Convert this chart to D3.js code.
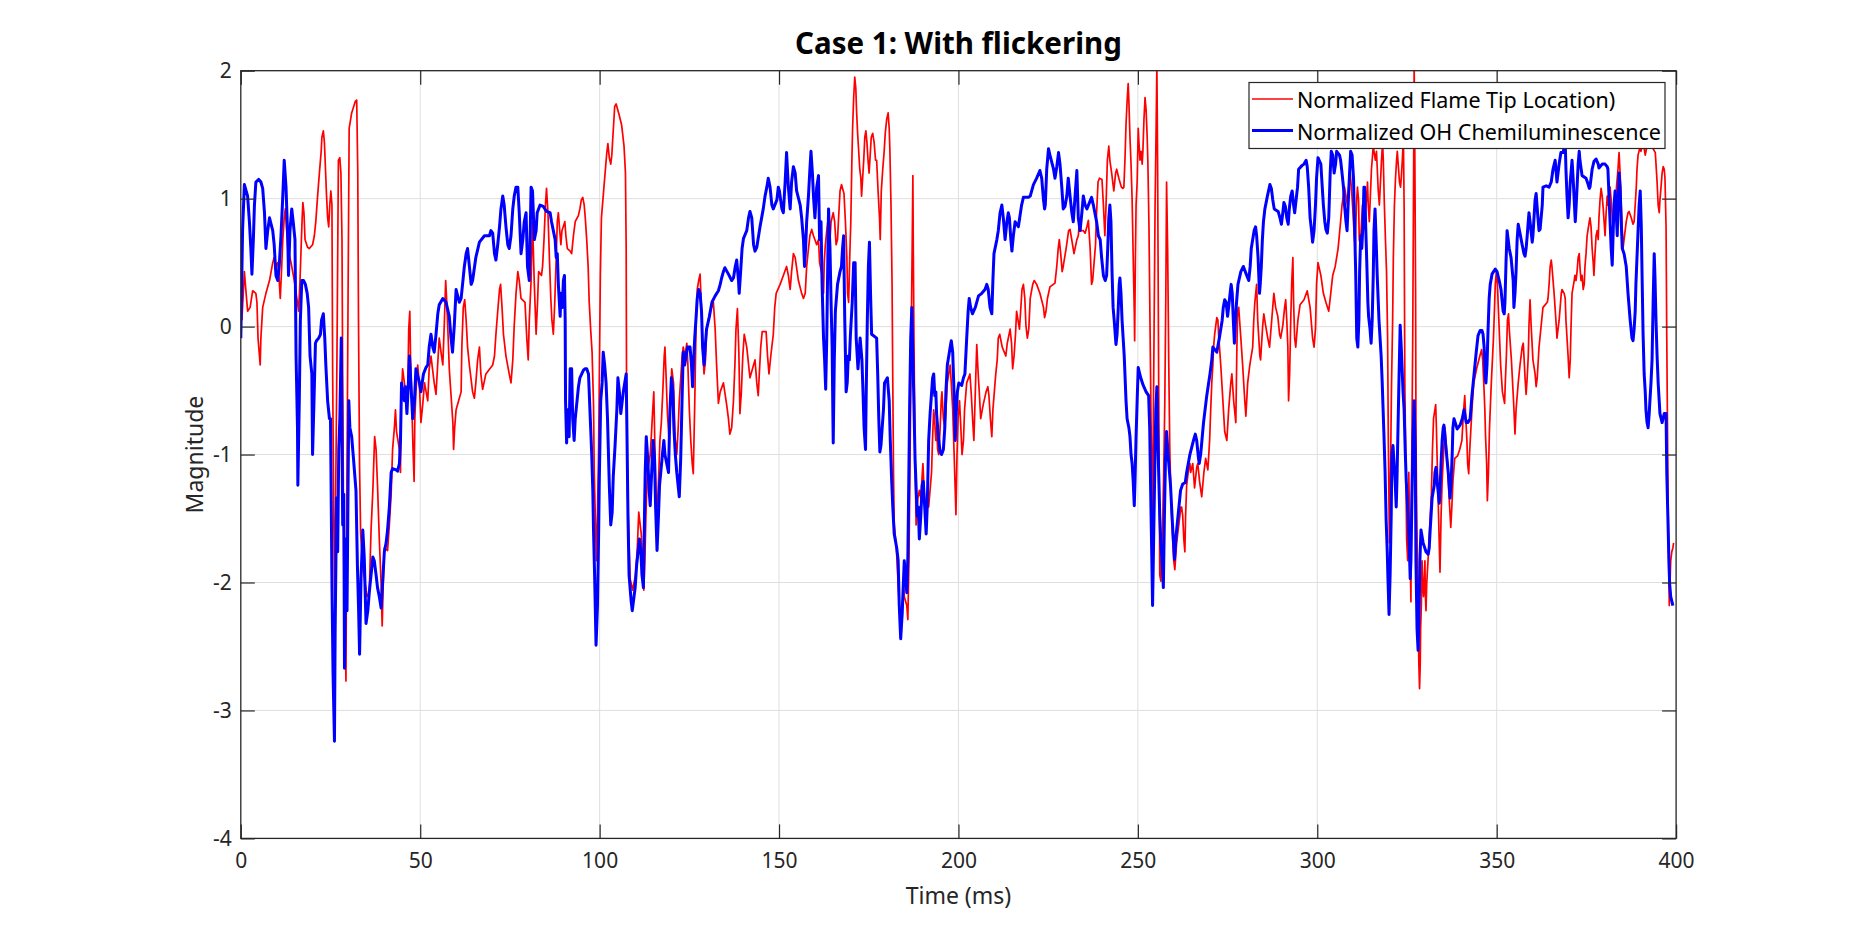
<!DOCTYPE html>
<html>
<head>
<meta charset="utf-8">
<script src="https://cdn.jsdelivr.net/npm/d3@7"></script>
<style>
  body { margin: 0; background: #fff; }
  svg text { font-family: "Noto Sans", "Open Sans", sans-serif; }
</style>
</head>
<body>
<main></main>
<script>
// Case 1 flame tip vs OH signal

// Ticks
const xTicks = [0, 50, 100, 150, 200, 250, 300, 350, 400];
const yTicks = [-4, -3, -2, -1, 0, 1, 2];

// Series names
const seriesNames = ["Normalized Flame Tip Location)", "Normalized OH Chemiluminescence"];

// Normalized flame tip location, [time (ms), value]
const flameTip = [
  [0.3,0.05],[1.0,0.43],[1.4,0.29],[1.9,0.12],[2.6,0.15],[3.3,0.28],[4.2,0.26],[4.5,0.19],[4.8,-0.09],[5.2,-0.23],
  [5.4,-0.30],[5.6,-0.09],[6.1,0.15],[7.0,0.26],[8.0,0.36],[8.9,0.50],[9.3,0.54],[9.8,0.47],[10.3,0.50],[10.7,0.36],
  [11.0,0.22],[11.4,0.47],[11.7,0.68],[12.1,0.85],[12.4,0.92],[13.1,0.61],[14.0,0.50],[14.9,0.36],[15.8,0.19],[16.1,0.12],
  [16.5,0.36],[16.8,0.61],[17.1,0.85],[17.3,0.97],[17.6,0.89],[17.9,0.68],[18.6,0.62],[19.1,0.61],[20.0,0.64],[20.5,0.71],
  [20.9,0.82],[21.4,1.02],[21.9,1.20],[22.4,1.37],[22.6,1.48],[23.0,1.53],[23.3,1.44],[23.6,1.23],[23.9,1.02],[24.2,0.85],
  [24.5,0.78],[24.8,0.95],[25.1,1.06],[25.4,0.95],[25.6,-0.37],[25.9,-1.48],[26.2,-2.22],[26.5,-1.14],[26.8,-0.23],[27.2,1.30],
  [27.6,1.32],[27.9,1.20],[28.2,0.68],[28.4,-0.44],[28.7,-1.83],[29.0,-2.18],[29.3,-2.77],[29.6,-1.14],[29.9,0.26],[30.2,1.55],
  [30.9,1.67],[31.9,1.76],[32.3,1.77],[32.6,1.20],[32.8,0.05],[33.1,-1.10],[33.4,-1.62],[34.1,-1.90],[35.2,-2.11],[35.8,-2.08],
  [36.3,-1.59],[36.8,-1.28],[37.3,-0.86],[37.7,-0.96],[38.1,-1.24],[38.6,-1.66],[39.1,-2.01],[39.4,-2.34],[39.7,-2.01],[40.0,-1.73],
  [40.9,-1.75],[41.4,-1.55],[41.9,-1.31],[42.3,-0.96],[42.8,-0.79],[43.1,-0.65],[43.4,-0.82],[44.2,-0.96],[44.5,-1.14],[44.7,-0.58],
  [45.1,-0.33],[45.9,-0.51],[46.2,-0.65],[46.5,-0.54],[46.8,-0.02],[47.1,0.12],[47.3,-0.23],[47.7,-0.65],[48.0,-0.96],[48.3,-1.21],
  [48.5,-0.72],[48.8,-0.51],[49.3,-0.30],[49.8,-0.47],[50.2,-0.75],[50.7,-0.61],[51.2,-0.44],[52.1,-0.58],[52.5,-0.33],[53.0,-0.23],
  [53.9,-0.44],[54.4,-0.53],[55.0,-0.23],[55.3,-0.09],[55.8,-0.20],[56.3,-0.30],[56.7,0.01],[57.1,0.36],[57.4,0.19],[57.8,-0.09],
  [58.1,-0.33],[58.6,-0.54],[59.1,-0.75],[59.3,-0.96],[59.6,-0.79],[60.0,-0.65],[60.9,-0.56],[61.4,-0.51],[61.6,-0.16],[62.0,0.15],
  [62.4,0.21],[62.8,0.05],[63.2,-0.16],[63.7,-0.30],[64.6,-0.51],[65.1,-0.56],[65.5,-0.44],[66.0,-0.26],[66.5,-0.16],[66.9,-0.37],
  [67.4,-0.49],[68.3,-0.37],[70.2,-0.30],[70.7,-0.23],[71.1,-0.06],[71.6,0.12],[72.1,0.29],[72.4,0.33],[72.8,0.15],[73.2,-0.06],
  [73.9,-0.23],[74.8,-0.37],[75.3,-0.44],[75.8,-0.26],[76.2,0.01],[76.7,0.26],[77.2,0.43],[77.6,0.36],[78.1,0.22],[79.2,0.19],
  [79.7,-0.09],[80.1,-0.26],[80.4,0.05],[80.9,0.36],[81.3,0.82],[81.8,0.33],
  [82.3,-0.06],[82.7,0.19],[83.0,0.43],[83.8,0.40],[84.1,0.47],[84.5,0.68],[84.9,0.95],[85.2,1.08],[85.6,0.89],[86.0,0.54],
  [86.4,0.22],[86.7,0.05],[87.1,-0.06],[87.5,0.19],[87.9,0.54],[88.2,0.82],[88.5,0.89],[88.8,0.78],[89.2,0.64],[89.5,0.75],
  [90.3,0.82],[90.6,0.71],[91.0,0.61],[91.8,0.59],[92.2,0.57],[92.7,0.71],[93.2,0.82],[94.1,0.87],[94.5,0.92],[94.9,0.99],
  [95.3,1.01],[95.7,0.95],[96.0,0.85],[96.4,0.68],[96.8,0.47],[97.1,0.19],[97.5,-0.02],[97.9,-0.20],[98.3,-0.61],[98.5,-1.14],
  [98.8,-1.48],[99.1,-1.83],[99.4,-1.48],[99.7,-1.00],[99.9,-0.44],[100.2,0.40],[100.5,0.85],[101.2,1.09],[102.0,1.36],[102.3,1.43],
  [102.7,1.32],[103.1,1.27],[103.4,1.34],[103.6,1.44],[103.9,1.58],[104.2,1.72],[104.6,1.74],[105.3,1.67],[106.1,1.58],[106.4,1.51],
  [106.8,1.41],[107.2,1.20],[107.4,0.61],[107.5,-0.44],[107.8,-1.31],[108.2,-1.69],[108.5,-1.97],[109.2,-2.06],[110.0,-1.94],[110.5,-1.73],
  [110.9,-1.45],[111.6,-1.62],[112.0,-1.80],[112.3,-2.06],[112.6,-1.83],[112.9,-1.48],[113.3,-1.14],[114.1,-1.00],[114.4,-0.86],[114.8,-0.65],
  [115.1,-0.51],[115.4,-0.93],[115.7,-1.34],[116.1,-1.41],[116.5,-1.14],[116.8,-0.89],[117.2,-0.75],[117.6,-0.51],[118.0,-0.23],[118.2,-0.16],
  [118.5,-0.37],[118.9,-0.68],[119.3,-0.86],[119.6,-0.65],[120.1,-0.33],[120.6,-0.44],[121.0,-0.86],[121.5,-1.00],[121.9,-0.79],[122.2,-0.58],
  [123.0,-0.23],[123.3,-0.16],[123.8,-0.23],[124.3,-0.13],[124.6,-0.30],[125.0,-0.65],[125.4,-0.89],[125.8,-1.07],[126.1,-1.15],[126.5,-0.61],
  [126.9,0.05],[127.2,0.29],[127.6,0.36],[128.0,0.41],[128.4,0.12],[128.7,-0.16],[129.1,-0.37],[129.5,-0.26],[129.8,-0.02],[130.8,0.12],
  [131.7,0.19],[132.2,-0.02],[132.6,-0.30],[133.1,-0.60],[133.6,-0.51],[134.5,-0.44],[135.4,-0.61],[135.9,-0.72],[136.3,-0.84],[136.8,-0.79],
  [137.3,-0.58],[137.7,-0.30],[138.0,-0.02],[138.4,0.14],[138.8,-0.20],[139.1,-0.68],[139.5,-0.51],[139.9,-0.23],[140.3,-0.06],[141.0,-0.16],
  [141.9,-0.40],[142.9,-0.30],[143.3,-0.26],[143.8,-0.44],[144.2,-0.54],[144.5,-0.37],[144.9,-0.16],[145.3,-0.04],[146.4,-0.04],[146.8,-0.23],
  [147.2,-0.37],[147.7,-0.23],[148.4,-0.06],[148.8,0.15],[149.2,0.26],[150.3,0.33],[151.2,0.40],[152.1,0.47],[152.6,0.40],[153.1,0.29],
  [153.5,0.43],[154.0,0.57],[154.5,0.54],[155.4,0.36],[156.3,0.26],[156.8,0.22],[157.3,0.26],[157.7,0.47],[158.2,0.61],[158.6,0.71],
  [159.1,0.76],[159.6,0.71],[160.5,0.64],[161.0,0.68],[161.3,0.50],
  [162.0,0.40],[162.4,0.26],[162.6,0.50],[162.9,0.64],[163.3,0.75],[163.6,0.82],[163.8,0.71],[164.2,0.68],[164.5,0.82],[165.1,0.89],
  [165.5,0.82],[165.9,0.64],[166.3,0.68],[166.6,0.85],[167.0,1.06],[167.4,1.11],[168.1,1.04],[168.5,0.82],[168.9,0.54],[169.1,0.26],
  [169.4,0.19],[169.7,0.54],[170.0,0.82],[170.3,1.30],[170.5,1.55],[170.8,1.79],[171.1,1.95],[171.4,1.86],[171.6,1.69],[171.9,1.51],
  [172.2,1.37],[172.5,1.23],[172.8,1.16],[173.0,1.02],[173.3,1.16],[173.6,1.30],[173.9,1.48],[174.2,1.53],[174.5,1.44],[174.8,1.30],
  [175.1,1.20],[175.4,1.34],[175.7,1.48],[176.1,1.51],[176.5,1.44],[176.9,1.30],[177.2,1.30],[177.6,1.06],[178.0,0.85],[178.2,0.68],
  [178.5,1.06],[178.9,1.23],[179.3,1.37],[179.6,1.51],[180.0,1.62],[180.4,1.67],[180.7,1.55],[180.9,1.37],[181.2,0.95],[181.5,0.33],
  [181.7,-0.44],[181.9,-1.14],[182.1,-1.55],[182.7,-1.73],[183.0,-1.90],[183.5,-2.18],[183.9,-2.36],[184.3,-2.29],[184.7,-1.97],[184.9,-2.11],
  [185.6,-2.18],[185.9,-2.29],[186.2,-1.83],[186.5,-1.07],[186.8,-0.16],[187.1,0.61],[187.3,1.18],[187.4,0.68],[187.6,-0.09],[187.9,-1.00],
  [188.2,-1.55],[188.7,-1.34],[189.1,-1.28],[189.5,-1.34],[190.1,-1.07],[190.7,-1.45],[191.3,-1.31],[191.7,-1.41],[192.5,-1.14],[192.8,-0.86],
  [193.1,-0.65],[193.4,-0.75],[193.7,-0.89],[193.9,-0.79],[194.2,-0.96],[194.5,-1.00],[194.9,-0.79],[195.2,-0.58],[195.4,-0.51],[195.8,-0.72],
  [196.2,-0.79],[196.5,-0.65],[196.9,-0.44],[197.7,-0.30],[198.0,-0.44],[198.4,-0.65],[198.8,-1.00],[199.1,-1.28],[199.3,-1.47],[199.6,-1.00],
  [199.9,-0.72],[200.3,-0.58],[200.6,-0.75],[201.0,-1.00],[201.4,-0.89],[201.7,-0.65],[202.3,-0.44],[203.2,-0.37],[203.6,-0.54],[204.0,-0.75],
  [204.3,-0.89],[204.7,-0.51],[205.1,-0.14],[205.5,-0.37],[205.8,-0.51],[206.2,-0.72],[206.9,-0.61],[207.7,-0.51],[208.2,-0.47],[208.5,-0.54],
  [208.9,-0.72],[209.3,-0.86],[209.6,-0.65],[210.0,-0.51],[210.4,-0.37],[210.8,-0.26],[211.1,-0.09],[211.5,-0.06],[212.2,-0.16],[213.2,-0.23],
  [213.6,-0.13],[214.4,-0.02],[214.8,-0.13],[215.1,-0.33],[215.5,-0.23],[215.9,-0.06],[216.2,0.12],[216.6,0.05],[217.0,-0.02],[217.4,0.15],
  [217.7,0.29],[218.1,0.33],[218.5,0.22],[218.8,0.01],[219.2,-0.09],[219.6,-0.02],[220.0,0.22],[220.7,0.33],[221.1,0.36],[221.8,0.33],
  [222.7,0.26],[223.7,0.15],[224.0,0.07],[224.4,0.12],[224.8,0.22],[225.5,0.31],[226.9,0.34],[227.4,0.47],[227.8,0.61],[228.1,0.68],
  [228.5,0.57],[228.9,0.43],[229.2,0.47],[230.0,0.61],[230.7,0.75],[231.1,0.76],[231.8,0.64],[232.2,0.57],[233.0,0.68],[233.4,0.71],
  [233.7,0.82],[234.1,0.75],[234.8,0.75],[235.3,0.73],[235.8,0.78],[236.2,0.83],[236.7,0.61],[237.1,0.33],[237.4,0.36],[237.8,0.50],
  [238.2,0.64],[238.5,0.89],[238.9,1.13],[239.3,1.16],[240.0,1.15],[240.4,0.95],[240.8,0.71],[241.1,0.92],[241.5,1.30],[241.9,1.41],
  [242.2,1.30],
  [242.7,1.20],[243.3,1.06],[243.8,1.20],[244.1,1.23],[244.7,1.16],[245.4,1.09],[245.8,1.08],[246.1,1.09],[246.4,1.30],[246.7,1.58],
  [247.0,1.76],[247.3,1.90],[247.5,1.76],[247.8,1.48],[248.1,1.27],[248.4,0.99],[248.7,0.54],[249.0,0.12],[249.1,-0.11],[249.3,0.50],
  [249.5,0.95],[249.8,1.13],[250.1,1.55],[250.3,1.44],[250.6,1.30],[250.9,1.37],[251.2,1.27],[251.4,1.37],[251.7,1.62],[252.0,1.79],
  [252.3,1.69],[252.6,1.48],[252.8,1.27],[253.1,0.78],[253.4,-0.02],[253.7,-0.79],[254.0,-1.48],[254.2,-1.14],[254.5,-0.09],[254.8,0.95],
  [255.1,1.58],[255.3,2.05],[255.5,1.30],[255.8,-0.44],[256.1,-1.94],[256.4,-1.99],[256.6,-1.80],[256.9,-1.55],[257.2,-1.14],[257.5,-0.61],
  [257.8,0.26],[258.0,1.13],[258.3,0.61],[258.6,-0.26],[258.9,-0.96],[259.2,-1.31],[259.4,-1.48],[259.7,-1.66],[260.0,-1.83],[260.3,-1.90],
  [260.8,-1.69],[261.4,-1.55],[262.0,-1.41],[262.2,-1.41],[262.5,-1.48],[262.8,-1.66],[263.1,-1.76],[263.3,-1.48],[263.6,-1.24],[264.2,-1.10],
  [264.5,-1.07],[264.7,-1.14],[265.3,-1.07],[265.8,-1.26],[266.4,-1.10],[266.7,-1.07],[267.2,-1.21],[267.8,-1.33],[268.4,-1.14],[268.9,-1.03],
  [269.5,-1.12],[269.7,-1.03],[270.0,-0.89],[270.3,-0.65],[270.6,-0.44],[270.9,-0.30],[271.1,-0.16],[271.4,-0.06],[272.0,0.07],[272.3,0.05],
  [272.5,-0.06],[273.1,-0.30],[273.7,-0.58],[274.2,-0.82],[274.8,-0.89],[275.3,-0.65],[275.9,-0.44],[276.2,-0.37],[276.7,-0.58],[277.3,-0.75],
  [277.6,-0.16],[277.8,0.12],[278.1,0.15],[278.7,-0.09],[279.2,-0.30],[279.8,-0.58],[280.1,-0.70],[280.6,-0.44],[281.2,-0.30],[282.0,-0.16],
  [282.3,0.05],[282.6,0.19],[283.1,0.33],[283.4,0.05],[284.0,-0.23],[284.2,-0.26],[284.8,0.01],[285.1,0.10],[285.6,0.01],[286.2,-0.09],
  [286.7,-0.16],[287.3,0.05],[287.9,0.26],[288.4,0.15],[289.0,0.08],[289.5,-0.06],[289.8,-0.09],[290.4,0.01],[290.9,0.15],[291.2,0.21],
  [291.5,0.05],[291.8,-0.16],[292.0,-0.58],[292.3,-0.37],[292.6,0.05],[292.9,0.36],[293.2,0.54],[293.4,0.19],[293.7,-0.09],[294.0,-0.16],
  [294.6,0.05],[295.2,0.17],[296.3,0.21],[297.2,0.28],[298.0,0.15],[298.7,-0.09],[299.1,-0.16],[299.5,-0.02],[299.8,0.33],[300.2,0.50],
  [301.0,0.40],[301.7,0.26],[302.4,0.19],[303.2,0.12],[303.6,0.22],[304.3,0.40],[305.0,0.47],[305.8,0.61],[306.5,0.82],[306.9,0.95],
  [307.6,1.09],[308.0,1.02],[308.4,0.95],[309.1,1.23],[309.5,1.09],[309.9,0.92],[310.3,0.71],[310.6,0.61],[310.9,0.95],[311.2,1.09],
  [311.5,0.99],[311.7,0.68],[312.0,0.64],[312.6,0.95],[313.1,0.78],[313.7,0.99],[314.0,1.13],[314.2,0.95],[314.5,0.82],[315.1,1.23],
  [315.6,1.41],[316.2,1.30],[316.5,1.37],[317.0,1.06],[317.3,0.95],[317.9,1.30],[318.2,1.44],[318.4,1.30],[318.7,0.95],[319.0,0.68],
  [319.3,0.43],[319.6,-0.09],[319.8,-0.89],[320.1,-1.69],[320.4,-1.14],[320.7,-0.44],[321.0,0.05],[321.2,0.54],[321.5,0.95],[321.8,1.16],
  [322.1,1.30],[322.3,1.37],[322.9,1.13],
  [323.2,1.09],[323.4,1.16],[323.7,1.30],[324.0,1.48],[324.2,0.95],[324.4,-0.44],[324.7,-1.14],[324.9,-1.66],[325.2,-1.83],[325.5,-1.14],
  [325.8,-1.66],[326.1,-2.15],[326.3,-1.14],[326.6,-0.09],[326.8,0.95],[327.0,2.05],[327.2,1.30],[327.4,0.26],[327.5,-0.79],[327.7,-1.48],
  [327.9,-1.83],[328.1,-2.18],[328.3,-2.63],[328.5,-2.83],[328.7,-2.63],[328.8,-2.36],[329.0,-2.18],[329.2,-1.83],[329.4,-2.01],[329.6,-2.11],
  [329.8,-2.01],[330.0,-1.83],[330.1,-2.08],[330.3,-2.22],[330.5,-2.01],[331.0,-1.76],[331.5,-1.48],[331.8,-1.31],[332.1,-0.96],[332.4,-0.72],
  [333.0,-0.61],[333.2,-0.79],[333.5,-1.14],[333.8,-1.48],[334.2,-1.92],[334.5,-1.48],[334.8,-1.21],[335.3,-0.93],[335.6,-0.79],[336.2,-1.03],
  [336.7,-1.31],[337.2,-1.57],[337.5,-1.41],[337.8,-1.21],[338.3,-1.03],[339.1,-1.01],[339.7,-0.96],[340.3,-0.89],[340.5,-0.79],[340.8,-0.65],
  [341.1,-0.54],[341.4,-0.72],[341.7,-0.89],[341.9,-1.07],[342.2,-1.15],[342.5,-0.96],[343.1,-0.65],[343.6,-0.44],[344.4,-0.33],[345.3,-0.23],
  [345.8,-0.18],[346.1,-0.26],[346.4,-0.44],[346.7,-0.65],[346.9,-0.86],[347.2,-1.07],[347.4,-1.36],[347.7,-1.14],[348.0,-0.79],[348.5,-0.44],
  [349.1,-0.09],[349.4,0.15],[349.6,0.33],[349.9,0.43],[350.2,0.33],[350.5,0.12],[350.8,-0.09],[351.1,-0.30],[351.6,-0.51],[352.2,-0.60],
  [352.4,-0.44],[352.7,-0.23],[353.0,0.05],[353.3,0.10],[353.5,-0.02],[354.1,-0.26],[354.7,-0.58],[355.1,-0.84],[355.4,-0.65],[356.0,-0.44],
  [356.5,-0.30],[357.1,-0.16],[357.4,-0.13],[357.6,-0.23],[357.9,-0.40],[358.2,-0.53],[358.5,-0.40],[358.8,-0.23],[359.0,0.01],[359.3,0.21],
  [359.6,0.01],[360.1,-0.26],[360.7,-0.37],[361.0,-0.47],[361.3,-0.40],[361.8,-0.16],[362.4,0.01],[362.9,0.15],[363.5,0.17],[364.1,0.19],
  [364.3,0.22],[364.6,0.33],[364.9,0.47],[365.2,0.52],[365.4,0.47],[366.0,0.26],[366.6,0.01],[366.8,-0.09],[367.4,0.05],[368.0,0.26],
  [368.2,0.29],[368.8,0.26],[369.1,0.22],[369.3,0.05],[369.9,-0.23],[370.2,-0.40],[370.5,-0.26],[370.7,-0.02],[371.0,0.26],[371.6,0.36],
  [371.8,0.40],[372.1,0.36],[372.4,0.43],[372.7,0.54],[373.0,0.57],[373.2,0.47],[373.5,0.36],[373.8,0.40],[374.1,0.29],[374.4,0.33],
  [374.6,0.47],[374.9,0.57],[375.2,0.71],[375.8,0.82],[376.0,0.85],[376.3,0.78],[376.6,0.61],[376.9,0.50],[377.1,0.40],[377.4,0.57],
  [377.7,0.71],[378.0,0.75],[378.3,0.68],[378.5,0.85],[378.8,0.99],[379.1,1.08],[379.4,1.02],[379.7,0.92],[380.2,0.71],[380.5,0.89],
  [380.8,1.02],[381.0,0.95],[381.3,1.06],[381.6,1.09],[381.9,0.99],[382.4,0.78],[382.7,0.89],[383.3,1.06],[383.8,1.23],[384.1,1.36],
  [384.4,1.20],[384.7,0.95],[385.0,0.75],[385.2,0.61],[385.5,0.68],[386.1,0.82],[386.6,0.89],[386.9,0.90],[387.5,0.85],[388.0,0.80],
  [388.3,0.82],[388.6,0.95],[388.9,1.09],[389.1,1.23],[389.4,1.34],[390.0,1.41],[390.2,1.37],[390.8,1.44],[391.4,1.34],[391.9,1.41],
  [392.5,1.48],[393.0,1.41],[393.6,1.39],[394.2,1.36],[394.4,1.27],[394.7,1.13],[395.0,0.95],[395.3,0.89],[395.5,0.99],[395.8,1.09],
  [396.1,1.20],[396.4,1.25],[396.7,1.23],[396.9,1.16],[397.2,0.78],[397.4,-0.09],[397.6,-0.79],[397.8,-1.48],[398.0,-2.01],[398.1,-2.18],
  [398.3,-2.01],[398.5,-1.83],[398.8,-1.76],[399.1,-1.73],[399.3,-1.69]
];

// Normalized OH chemiluminescence, [time (ms), value]
const ohChemi = [
  [0.0,-0.09],[0.5,0.76],[1.0,1.11],[1.9,1.02],[2.4,0.82],[2.8,0.61],[3.1,0.41],[3.5,0.68],[3.8,0.95],[4.2,1.13],
  [5.0,1.15],[5.6,1.13],[6.1,1.08],[6.6,0.89],[7.0,0.61],[7.5,0.75],[8.0,0.85],[8.9,0.75],[9.3,0.64],[9.8,0.40],
  [10.3,0.36],[10.7,0.47],[11.2,0.71],[11.7,1.02],[12.1,1.30],[12.6,1.09],[13.1,0.68],[13.3,0.40],[13.7,0.75],[14.2,0.92],
  [14.6,0.82],[15.1,0.68],[15.4,-0.23],[15.8,-0.79],[15.9,-1.24],[16.3,-0.58],[16.6,0.05],[17.0,0.36],[17.5,0.36],[18.0,0.33],
  [18.5,0.26],[18.9,0.15],[19.3,-0.23],[19.8,-0.37],[20.0,-1.00],[20.4,-0.58],[20.8,-0.13],[21.1,-0.11],[21.7,-0.09],[22.2,-0.06],
  [22.5,0.05],[23.0,0.10],[23.4,-0.09],[23.7,-0.30],[24.2,-0.58],[24.7,-0.72],[25.0,-0.72],[25.4,-2.00],[25.7,-2.70],[26.1,-3.24],
  [26.3,-2.36],[26.7,-1.34],[27.0,-1.76],[27.3,-0.96],[27.6,-0.72],[28.0,-0.09],[28.4,-1.55],[28.7,-1.31],[28.9,-2.67],[29.3,-1.66],
  [29.6,-2.22],[30.1,-0.58],[30.4,-0.79],[30.9,-0.86],[31.4,-1.03],[31.7,-1.14],[32.1,-1.28],[32.5,-1.87],[32.8,-2.18],[33.1,-2.56],
  [33.5,-1.97],[34.0,-1.59],[34.4,-1.80],[34.9,-2.32],[35.4,-2.22],[35.8,-2.08],[36.3,-1.94],[36.8,-1.80],[37.2,-1.83],[37.7,-1.94],
  [38.1,-2.04],[38.6,-2.11],[39.1,-2.20],[39.5,-2.01],[40.0,-1.76],[40.5,-1.69],[40.9,-1.59],[41.4,-1.41],[41.9,-1.14],[42.3,-1.11],
  [43.3,-1.12],[43.7,-1.13],[44.2,-1.07],[44.5,-0.89],[44.8,-0.44],[45.6,-0.58],[45.9,-0.47],[46.3,-0.68],[46.7,-0.44],[47.0,-0.23],
  [47.4,-0.44],[47.9,-0.72],[48.4,-0.58],[48.8,-0.33],[49.8,-0.44],[50.2,-0.51],[50.9,-0.37],[51.6,-0.32],[52.1,-0.30],[52.5,-0.16],
  [53.0,-0.06],[53.5,-0.16],[53.9,-0.20],[54.4,-0.06],[54.9,0.10],[55.3,0.17],[56.3,0.22],[57.2,0.19],[58.1,0.08],[58.6,-0.09],
  [59.0,-0.20],[59.5,0.01],[60.0,0.29],[60.9,0.19],[61.4,0.22],[61.8,0.33],[62.3,0.47],[62.8,0.57],[63.2,0.61],[63.7,0.47],
  [64.2,0.33],[64.6,0.36],[65.5,0.54],[66.5,0.66],[67.9,0.71],[69.3,0.71],[69.7,0.75],[70.2,0.73],[70.7,0.57],[71.1,0.52],
  [71.6,0.64],[72.1,0.78],[72.5,0.92],[73.0,1.02],[73.4,0.95],[73.9,0.78],[74.4,0.64],[74.8,0.61],[75.3,0.71],[75.8,0.92],
  [76.2,1.02],[76.7,1.09],[77.2,1.09],[77.6,0.89],[78.1,0.57],[78.6,0.68],[79.0,0.82],[79.5,0.89],[79.9,0.47],[80.4,0.36],
  [80.9,1.09],[81.3,1.06],[81.8,0.68],
  [82.3,0.75],[82.6,0.89],[83.4,0.95],[84.3,0.94],[85.2,0.90],[86.2,0.89],[86.6,0.82],[87.1,0.75],[87.6,0.68],[87.9,0.54],
  [88.2,0.57],[88.5,0.33],[89.0,0.08],[89.2,0.26],[89.6,0.15],[89.9,0.36],[90.2,0.40],[90.4,0.05],[90.5,-0.58],[90.8,-0.91],
  [91.1,-0.65],[91.5,-0.86],[91.8,-0.33],[92.2,-0.33],[92.5,-0.72],[92.9,-0.89],[93.2,-0.72],[93.6,-0.61],[94.1,-0.47],[94.5,-0.40],
  [95.5,-0.34],[95.9,-0.33],[96.4,-0.33],[96.9,-0.37],[97.1,-0.51],[97.5,-0.79],[97.8,-1.00],[98.1,-1.28],[98.3,-1.59],[98.6,-1.94],
  [99.0,-2.49],[99.4,-2.18],[99.7,-1.66],[99.9,-1.21],[100.3,-0.58],[100.7,-0.44],[101.0,-0.20],[101.4,-0.30],[101.8,-0.44],[102.2,-0.72],
  [102.4,-0.93],[102.7,-1.24],[103.1,-1.55],[103.5,-1.45],[103.8,-1.17],[104.3,-0.93],[104.8,-0.65],[105.1,-0.40],[105.5,-0.51],[105.9,-0.68],
  [106.6,-0.51],[107.4,-0.37],[107.6,-0.79],[107.9,-1.48],[108.2,-1.94],[108.8,-2.15],[109.1,-2.22],[109.9,-2.04],[110.3,-1.87],[111.1,-1.66],
  [111.5,-1.76],[111.8,-1.94],[112.2,-2.04],[112.5,-1.48],[112.7,-1.14],[113.0,-0.86],[113.4,-1.03],[113.8,-1.28],[114.1,-1.40],[114.5,-1.14],
  [114.9,-0.89],[115.3,-1.03],[115.6,-1.41],[116.0,-1.75],[116.4,-1.48],[116.7,-1.24],[117.5,-1.00],[117.9,-0.89],[118.2,-1.00],[119.2,-1.14],
  [119.6,-0.65],[120.0,-0.40],[120.4,-0.51],[120.7,-0.79],[121.1,-1.00],[121.5,-1.14],[122.2,-1.33],[122.6,-1.03],[123.0,-0.54],[123.3,-0.20],
  [123.7,-0.30],[124.5,-0.16],[125.2,-0.16],[125.6,-0.30],[125.9,-0.47],[126.2,-0.26],[126.5,-0.09],[126.9,0.08],[127.2,0.22],[127.6,0.29],
  [128.0,0.26],[128.4,0.12],[128.7,-0.16],[129.1,-0.30],[129.5,-0.13],[129.8,-0.02],[130.6,0.08],[131.3,0.19],[132.2,0.24],[133.1,0.28],
  [133.6,0.33],[134.0,0.38],[134.5,0.43],[134.9,0.46],[135.9,0.41],[136.8,0.36],[137.3,0.38],[137.8,0.47],[138.2,0.52],[138.7,0.36],
  [138.9,0.26],[139.3,0.43],[139.7,0.61],[140.1,0.69],[141.0,0.75],[141.5,0.85],[141.9,0.90],[142.4,0.85],[142.9,0.64],[143.3,0.59],
  [143.8,0.62],[144.7,0.78],[145.6,0.92],[146.1,1.02],[146.6,1.09],[147.0,1.16],[147.5,1.09],[148.0,0.95],[148.4,0.92],[149.4,0.99],
  [149.8,1.09],[150.1,1.06],[150.8,0.92],[151.2,0.89],[151.7,1.13],[152.1,1.36],[152.6,1.09],[153.1,0.92],[153.5,1.13],[154.0,1.25],
  [154.5,1.20],[154.9,1.06],[155.9,0.95],[156.3,0.85],[156.8,0.68],[157.1,0.47],[157.4,0.61],[157.7,0.82],[158.2,1.02],[158.6,1.23],
  [158.9,1.37],[159.3,1.20],[159.6,1.02],[160.0,0.85],[160.5,1.09],[161.0,1.18],[161.3,0.68],
  [161.7,0.82],[162.0,0.33],[162.4,-0.09],[162.7,-0.26],[163.0,-0.49],[163.3,-0.09],[163.6,0.54],[163.8,0.92],[164.2,0.61],[164.5,0.19],
  [164.8,-0.16],[165.0,-0.68],[165.1,-0.91],[165.4,-0.26],[165.7,0.12],[166.3,0.33],[167.0,0.43],[167.4,0.47],[167.7,0.61],[168.0,0.71],
  [168.3,0.08],[168.7,-0.51],[169.0,-0.44],[169.3,-0.23],[169.6,-0.26],[169.9,-0.06],[170.4,0.19],[170.8,0.50],[171.2,0.50],[171.5,-0.09],
  [172.0,-0.33],[172.6,-0.09],[173.1,-0.26],[173.4,-0.51],[173.7,-0.79],[174.1,-0.96],[174.3,-0.51],[174.6,0.05],[174.9,0.47],[175.2,0.66],
  [175.5,0.26],[175.8,-0.06],[177.2,-0.09],[177.5,-0.37],[177.8,-0.72],[178.1,-0.98],[178.4,-0.93],[179.1,-0.65],[179.4,-0.44],[180.2,-0.40],
  [180.7,-0.58],[181.0,-0.89],[181.4,-1.21],[181.7,-1.41],[182.1,-1.62],[182.8,-1.73],[183.2,-1.83],[183.5,-2.18],[183.9,-2.44],[184.3,-2.25],
  [184.6,-2.04],[184.9,-1.83],[185.3,-1.97],[185.6,-2.08],[185.9,-1.80],[186.1,-1.34],[186.4,-0.61],[186.7,-0.09],[187.0,0.15],[187.3,-0.23],
  [187.6,-0.61],[187.9,-1.03],[188.5,-1.48],[188.8,-1.41],[189.1,-1.66],[189.5,-1.48],[189.9,-1.24],[190.2,-1.21],[190.6,-1.41],[191.0,-1.62],
  [191.3,-1.41],[191.7,-0.89],[192.1,-0.68],[192.8,-0.40],[193.1,-0.37],[193.4,-0.54],[193.7,-0.51],[193.9,-0.68],[194.4,-0.86],[194.9,-0.98],
  [195.3,-1.00],[195.8,-0.96],[196.2,-0.79],[196.5,-0.51],[196.9,-0.30],[197.7,-0.16],[198.0,-0.11],[198.4,-0.20],[198.8,-0.54],[199.1,-0.89],
  [199.3,-0.72],[199.7,-0.51],[200.1,-0.44],[200.9,-0.46],[201.4,-0.40],[201.8,-0.37],[202.3,-0.09],[202.7,0.12],[203.0,0.22],[203.4,0.15],
  [203.9,0.10],[204.7,0.15],[205.6,0.24],[206.5,0.26],[207.4,0.29],[207.9,0.33],[208.3,0.29],[208.8,0.15],[209.3,0.10],[209.6,0.36],
  [209.9,0.57],[210.7,0.68],[211.1,0.75],[211.6,0.89],[212.1,0.95],[212.5,0.85],[213.0,0.68],[213.5,0.82],[213.9,0.89],[214.2,0.85],
  [214.6,0.68],[214.9,0.59],[215.3,0.71],[215.8,0.82],[216.7,0.78],[217.6,0.95],[218.1,1.01],[219.5,1.01],[220.0,1.02],[220.9,1.11],
  [221.8,1.16],[222.7,1.22],[223.2,1.16],[223.7,0.99],[224.0,0.92],[224.2,0.95],[224.6,1.23],[225.1,1.39],[225.5,1.34],[226.5,1.23],
  [226.9,1.16],[227.4,1.25],[227.9,1.36],[228.3,1.27],[228.8,1.09],[229.2,0.92],[229.7,0.94],[230.2,1.02],[230.6,1.16],[231.1,1.02],
  [231.6,0.89],[232.0,0.82],[232.5,1.02],[233.0,1.22],[233.4,0.85],[233.9,0.75],[234.4,0.89],[234.8,1.02],[235.3,0.95],[235.8,0.92],
  [237.1,1.01],[237.6,0.95],[238.5,0.82],[239.0,0.71],[239.5,0.68],[239.9,0.54],[240.4,0.40],[240.9,0.36],[241.3,0.40],[241.6,0.61],
  [241.9,0.85],[242.2,0.95],
  [242.5,0.82],[242.8,0.43],[243.1,0.15],[243.4,0.05],[243.9,-0.14],[244.2,-0.06],[244.5,0.12],[244.8,0.33],[245.0,0.38],[245.3,0.26],
  [245.6,0.05],[245.9,-0.09],[246.2,-0.23],[246.4,-0.37],[246.7,-0.58],[247.0,-0.72],[247.5,-0.79],[247.8,-0.86],[248.1,-1.00],[248.4,-1.07],
  [248.7,-1.21],[249.0,-1.40],[249.2,-1.21],[249.5,-0.86],[249.8,-0.58],[250.1,-0.32],[250.8,-0.40],[251.5,-0.46],[252.3,-0.51],[253.0,-0.54],
  [253.3,-0.79],[253.6,-1.34],[253.9,-1.83],[254.1,-2.18],[254.4,-1.66],[254.7,-1.14],[255.0,-0.65],[255.3,-0.47],[255.5,-0.79],[255.8,-1.14],
  [256.1,-1.48],[256.4,-1.69],[256.9,-1.90],[257.1,-2.04],[257.4,-1.48],[257.7,-1.03],[258.0,-0.82],[258.5,-1.03],[259.1,-1.24],[259.6,-1.52],
  [260.2,-1.82],[260.7,-1.62],[261.3,-1.45],[261.9,-1.28],[262.5,-1.23],[263.2,-1.22],[263.6,-1.14],[264.5,-1.00],[265.5,-0.89],[266.0,-0.84],
  [266.4,-0.89],[266.9,-1.03],[267.1,-1.07],[267.5,-1.00],[268.3,-0.75],[269.2,-0.54],[270.1,-0.37],[270.6,-0.26],[270.9,-0.16],[272.0,-0.20],
  [272.7,-0.09],[273.5,0.05],[273.8,0.15],[274.2,0.21],[274.6,0.19],[275.0,0.08],[275.3,0.15],[275.7,0.26],[276.0,0.33],[276.3,0.26],
  [276.6,0.05],[276.9,-0.13],[277.2,0.05],[277.5,0.19],[277.9,0.33],[278.7,0.43],[279.4,0.47],[280.2,0.41],[280.9,0.36],[281.3,0.47],
  [281.6,0.61],[282.4,0.75],[282.8,0.78],[283.1,0.71],[283.5,0.54],[283.9,0.26],[284.1,0.33],[284.4,0.47],[284.7,0.68],[285.0,0.82],
  [285.4,0.92],[286.1,1.02],[286.8,1.11],[287.2,1.08],[287.6,0.99],[288.0,0.92],[289.1,0.90],[289.6,0.85],[290.0,0.80],[290.4,0.89],
  [290.7,0.97],[291.1,0.94],[291.5,0.85],[291.9,0.80],[292.2,0.92],[292.6,1.02],[293.0,1.06],[293.4,0.95],[293.7,0.89],[294.1,0.99],
  [294.5,1.09],[294.8,1.23],[295.8,1.26],[296.3,1.27],[296.9,1.30],[297.2,1.25],[297.6,1.09],[298.0,0.85],[298.4,0.75],[298.7,0.66],
  [299.1,0.75],[299.5,0.95],[299.8,1.16],[300.2,1.32],[301.0,1.27],[301.3,1.13],[301.7,0.95],[302.1,0.82],[302.4,0.76],[302.8,0.73],
  [303.2,0.85],[303.6,1.20],[303.9,1.37],[304.3,1.34],[304.7,1.20],[305.1,1.27],[305.4,1.37],[306.2,1.34],[306.5,1.30],[306.9,1.20],
  [307.3,1.09],[307.6,0.95],[308.0,0.82],[308.3,0.75],[308.6,0.95],[309.0,1.20],[309.3,1.37],[309.7,1.34],[310.1,1.16],[310.4,0.78],
  [310.7,0.43],[311.0,-0.09],[311.3,-0.16],[311.6,0.05],[311.8,0.43],[312.1,0.71],[312.4,0.61],[312.7,0.78],[313.0,1.09],[313.2,1.09],
  [313.5,0.78],[313.8,0.50],[314.1,0.19],[314.3,0.08],[314.7,-0.02],[315.0,-0.13],[315.3,0.05],[315.6,0.40],[315.8,0.75],[316.1,0.92],
  [316.4,0.68],[316.7,0.40],[317.0,0.19],[317.2,0.05],[317.5,-0.09],[317.8,-0.23],[318.1,-0.44],[318.3,-0.61],[318.6,-0.86],[318.9,-1.14],
  [319.2,-1.52],[319.5,-1.76],[319.7,-1.97],[320.0,-2.25],[320.3,-1.94],[320.6,-1.48],[320.8,-1.00],[321.1,-0.93],[321.4,-1.07],[321.7,-1.21],
  [322.0,-1.41],[322.2,-1.21],[322.5,-0.79],[322.8,-0.37],
  [323.1,0.01],[323.4,-0.16],[323.9,-0.51],[324.2,-0.65],[324.5,-0.96],[324.8,-1.21],[325.0,-1.31],[325.3,-1.48],[325.6,-1.69],[325.9,-1.97],
  [326.1,-1.83],[326.4,-1.31],[326.7,-0.86],[327.0,-0.58],[327.3,-0.96],[327.5,-1.83],[327.8,-2.36],[328.1,-2.53],[328.4,-2.18],[328.6,-1.83],
  [328.9,-1.59],[329.5,-1.69],[330.3,-1.76],[330.9,-1.78],[331.2,-1.73],[331.4,-1.62],[331.7,-1.48],[332.0,-1.34],[332.6,-1.24],[332.8,-1.14],
  [333.1,-1.10],[333.4,-1.21],[334.0,-1.38],[334.2,-1.28],[334.5,-1.07],[334.8,-0.89],[335.1,-0.79],[335.3,-0.77],[335.9,-0.96],[336.5,-1.14],
  [337.0,-1.34],[337.3,-1.21],[337.6,-1.00],[337.8,-0.79],[338.1,-0.72],[339.0,-0.80],[339.8,-0.77],[340.4,-0.72],[340.9,-0.65],[341.5,-0.75],
  [342.0,-0.75],[342.6,-0.72],[343.1,-0.54],[343.7,-0.37],[344.3,-0.20],[344.8,-0.07],[345.4,-0.03],[345.9,-0.03],[346.2,-0.06],[346.5,-0.16],
  [346.8,-0.40],[347.0,-0.44],[347.3,-0.30],[347.6,-0.02],[347.9,0.22],[348.2,0.33],[348.7,0.41],[349.6,0.45],[350.1,0.43],[350.7,0.36],
  [351.2,0.29],[351.8,0.12],[352.1,0.10],[352.3,0.19],[352.6,0.50],[352.9,0.75],[353.5,0.61],[354.0,0.54],[354.6,0.36],[354.8,0.15],
  [355.1,0.26],[355.4,0.43],[355.7,0.68],[356.0,0.80],[356.5,0.73],[357.1,0.64],[357.6,0.57],[357.9,0.55],[358.2,0.61],[358.5,0.71],
  [358.8,0.82],[359.0,0.89],[359.3,0.82],[359.9,0.66],[360.1,0.71],[360.4,0.85],[360.7,0.99],[361.0,1.04],[361.5,0.85],[361.8,0.75],
  [362.1,0.76],[362.7,0.95],[362.9,1.09],[363.8,1.10],[364.6,1.09],[365.2,1.13],[365.7,1.23],[366.3,1.30],[366.6,1.20],[366.8,1.13],
  [367.4,1.27],[367.9,1.36],[368.5,1.36],[369.1,1.44],[369.3,1.23],[369.6,1.02],[369.9,0.85],[370.2,0.95],[370.5,1.13],[371.0,1.30],
  [371.3,1.16],[371.6,0.99],[371.9,0.82],[372.1,0.92],[372.4,1.09],[372.7,1.27],[373.0,1.37],[373.2,1.30],[373.8,1.18],[374.9,1.16],
  [375.5,1.11],[375.8,1.08],[376.0,1.09],[376.6,1.23],[377.1,1.29],[377.7,1.31],[378.3,1.27],[378.5,1.24],[379.4,1.27],[380.2,1.27],
  [380.8,1.25],[381.0,1.23],[381.3,1.02],[381.6,0.82],[381.9,0.61],[382.2,0.48],[382.4,0.68],[382.7,0.95],[383.0,1.06],[383.3,0.89],
  [383.6,0.71],[383.8,0.95],[384.1,1.20],[384.4,1.09],[384.7,0.82],[385.0,0.61],[385.5,0.57],[386.1,0.47],[386.6,0.26],[387.2,0.05],
  [387.7,-0.09],[388.0,-0.11],[388.3,-0.02],[388.6,0.12],[388.8,0.33],[389.1,0.54],[389.4,0.75],[389.7,0.95],[390.0,1.06],[390.3,0.78],
  [390.5,0.43],[390.8,-0.06],[391.1,-0.37],[391.4,-0.51],[391.6,-0.65],[391.9,-0.75],[392.2,-0.79],[392.5,-0.68],[392.7,-0.58],[393.0,-0.44],
  [393.3,-0.26],[393.6,0.19],[393.9,0.57],[394.1,0.40],[394.4,0.05],[394.7,-0.23],[395.0,-0.44],[395.5,-0.68],[396.1,-0.75],[396.7,-0.68],
  [397.2,-0.68],[397.4,-1.14],[397.7,-1.48],[398.0,-1.83],[398.2,-2.01],[398.5,-2.11],[399.1,-2.18]
];

document.addEventListener('DOMContentLoaded', function(){

  //Parameters
  const W = 1852;
  const H = 942;
  const left = 240.8, top = 70.7;
  const w = 1435.3, h = 767.7;
  const ink = "#262626";

  const svg = d3.select("main")
    .append("svg")
    .attr("width", W)
    .attr("height", H);

  //Scales
  const x = d3.scaleLinear().domain([0, 400]).range([0, w]);
  const y = d3.scaleLinear().domain([-4, 2]).range([h, 0]);

  const g = svg.append("g")
    .attr("transform", "translate(" + left + "," + top + ")");

  //Clip to axes box
  svg.append("defs").append("clipPath")
    .attr("id", "plotArea")
    .append("rect")
    .attr("width", w)
    .attr("height", h);

  //Grid
  g.append("g")
    .selectAll("line")
    .data(xTicks.slice(1, -1))
    .enter()
    .append("line")
    .attr("x1", d => x(d)).attr("x2", d => x(d))
    .attr("y1", 0).attr("y2", h)
    .attr("stroke", "#dfdfdf")
    .attr("stroke-width", 1);

  g.append("g")
    .selectAll("line")
    .data(yTicks.slice(1, -1))
    .enter()
    .append("line")
    .attr("y1", d => y(d)).attr("y2", d => y(d))
    .attr("x1", 0).attr("x2", w)
    .attr("stroke", "#dfdfdf")
    .attr("stroke-width", 1);

  //Lines
  const line = d3.line()
    .x(d => x(d[0]))
    .y(d => y(d[1]));

  const plot = g.append("g").attr("clip-path", "url(#plotArea)");

  plot.append("path")
    .datum(flameTip)
    .attr("d", line)
    .attr("fill", "none")
    .attr("stroke", "#ff0000")
    .attr("stroke-width", 1.7)
    .attr("stroke-linejoin", "round");

  plot.append("path")
    .datum(ohChemi)
    .attr("d", line)
    .attr("fill", "none")
    .attr("stroke", "#0000ff")
    .attr("stroke-width", 3)
    .attr("stroke-linejoin", "round");

  //Axes (inner ticks on all four sides)
  const tickLen = 14;
  const plain = d => String(d);
  const axisStyle = sel => {
    sel.select(".domain").remove();
    sel.selectAll(".tick line").attr("stroke", ink).attr("stroke-width", 1.2);
    sel.selectAll(".tick text")
      .attr("fill", ink)
      .style("font-size", "21px");
  };

  g.append("g")
    .attr("transform", "translate(0," + h + ")")
    .call(d3.axisBottom(x).tickValues(xTicks).tickFormat(plain).tickSize(-tickLen).tickPadding(15))
    .call(axisStyle);

  g.append("g")
    .call(d3.axisTop(x).tickValues(xTicks).tickSize(-tickLen).tickFormat(""))
    .call(axisStyle);

  g.append("g")
    .call(d3.axisLeft(y).tickValues(yTicks).tickFormat(plain).tickSize(-tickLen).tickPadding(9))
    .call(axisStyle);

  g.append("g")
    .attr("transform", "translate(" + w + ",0)")
    .call(d3.axisRight(y).tickValues(yTicks).tickSize(-tickLen).tickFormat(""))
    .call(axisStyle);

  g.append("rect")
    .attr("width", w)
    .attr("height", h)
    .attr("fill", "none")
    .attr("stroke", ink)
    .attr("stroke-width", 1.3);

  //Title
  svg.append("text")
    .attr("x", left + w / 2)
    .attr("y", 54)
    .attr("text-anchor", "middle")
    .style("font-size", "29.5px")
    .style("font-weight", "bold")
    .attr("fill", "#000")
    .text("Case 1: With flickering");

  //Axis labels
  svg.append("text")
    .attr("x", left + w / 2)
    .attr("y", 904)
    .attr("text-anchor", "middle")
    .style("font-size", "23px")
    .attr("fill", ink)
    .text("Time (ms)");

  svg.append("text")
    .attr("transform", "translate(203," + (top + h / 2) + ") rotate(-90)")
    .attr("text-anchor", "middle")
    .style("font-size", "23px")
    .attr("fill", ink)
    .text("Magnitude");

  //Legend
  const legend = svg.append("g")
    .attr("id", "legend")
    .attr("transform", "translate(1249,82.5)");

  legend.append("rect")
    .attr("width", 416)
    .attr("height", 66)
    .attr("fill", "#fff")
    .attr("stroke", ink)
    .attr("stroke-width", 1.2);

  const legendColors = ["#ff0000", "#0000ff"];
  const legendWidths = [1.7, 3];

  legend.selectAll("line.key")
    .data(seriesNames)
    .enter()
    .append("line")
    .attr("class", "key")
    .attr("x1", 3).attr("x2", 44)
    .attr("y1", (d, i) => 16.5 + i * 31.5)
    .attr("y2", (d, i) => 16.5 + i * 31.5)
    .attr("stroke", (d, i) => legendColors[i])
    .attr("stroke-width", (d, i) => legendWidths[i]);

  legend.selectAll("text")
    .data(seriesNames)
    .enter()
    .append("text")
    .attr("x", 48)
    .attr("y", (d, i) => 25.8 + i * 31.7)
    .style("font-size", "21.5px")
    .attr("fill", "#000")
    .text(d => d);
});
</script>
</body>
</html>
